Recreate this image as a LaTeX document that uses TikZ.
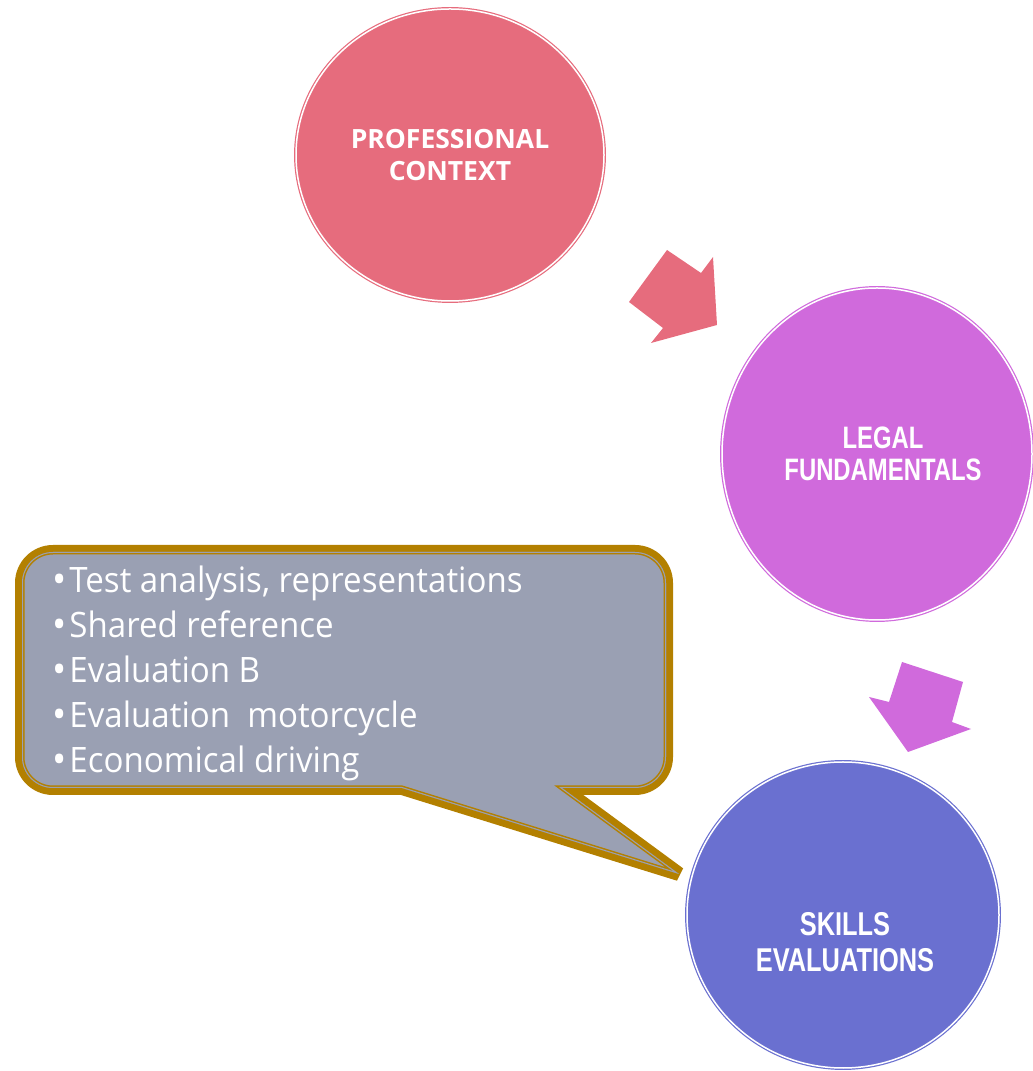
\documentclass[tikz,border=0pt]{standalone}
\usepackage{fontspec}
\setmainfont{Open Sans}
\newfontfamily\ctxfont{Open Sans}
\newfontfamily\legfont[FakeStretch=0.77]{Liberation Sans}
\newfontfamily\skfont[FakeStretch=0.77]{Liberation Sans}
\newfontfamily\callfont[FakeStretch=0.945]{Open Sans}
\usetikzlibrary{shapes.geometric}
\definecolor{pinkc}{HTML}{E66C7D}
\definecolor{purplec}{HTML}{D06ADC}
\definecolor{bluec}{HTML}{6A70D0}
\definecolor{callgrey}{HTML}{9AA0B3}
\definecolor{goldc}{HTML}{B38000}
\begin{document}
\begin{tikzpicture}[x=1pt,y=1pt,
  bubble/.style={ellipse, draw=#1, fill=#1, double=white, double distance=1.5pt, line width=1.2pt, inner sep=0pt, outer sep=0pt},
  bubtext/.style={text=white, align=center, inner sep=0pt},
  calltext/.style={text=white, anchor=base west, inner sep=0pt, font={\callfont\fontsize{35}{42}\selectfont}},
  callpath/.style={insert path={(53,519) -- (635,519) arc[start angle=90,end angle=0,radius=31] -- (666,314) arc[start angle=0,end angle=-90,radius=31] -- (562,283) -- (679,197) -- (402,283) -- (53,283) arc[start angle=270,end angle=180,radius=31] -- (22,488) arc[start angle=180,end angle=90,radius=31] -- cycle}}
]
\useasboundingbox (0,0) rectangle (1033,1071);

% circles
\node[bubble=pinkc, minimum width=308pt, minimum height=292pt] (prof) at (450,916) {};
\node[bubble=purplec, minimum width=310pt, minimum height=332pt] (legal) at (877,617) {};
\node[bubble=bluec, minimum width=312pt, minimum height=306pt] (skills) at (843,156) {};

\node[bubtext, font={\ctxfont\bfseries\fontsize{26.5}{32}\selectfont}] (proft) at (450,916) {PROFESSIONAL\\CONTEXT};
\node[bubtext, font={\legfont\bfseries\fontsize{31}{32}\selectfont}] (legalt) at (883,617) {LEGAL\\FUNDAMENTALS};
\node[bubtext, font={\skfont\bfseries\fontsize{33}{36}\selectfont}] (skillst) at (845,129) {SKILLS\\EVALUATIONS};

% block arrows
\fill[pinkc] (667,821) -- (701,798) -- (713,814) -- (717,746) -- (651,728) -- (663,743) -- (629,769) -- cycle;
\fill[purplec] (902,409) -- (963,389) -- (952,349) -- (971,342) -- (908,319) -- (869,374) -- (889,369) -- cycle;

% callout
\draw[goldc, line width=14pt, line join=bevel, callpath];
\fill[callgrey, callpath];
\begin{scope}
  \clip[callpath];
  \draw[goldc, line width=5pt, callpath];
  \draw[callgrey, line width=2pt, callpath];
\end{scope}

\node[calltext] (l1) at (52,478) {\raisebox{-1pt}{\fontsize{40}{42}\selectfont•}\hspace{3pt}Test analysis, representations};
\node[calltext] (l2) at (52,433) {\raisebox{-1pt}{\fontsize{40}{42}\selectfont•}\hspace{3pt}Shared reference};
\node[calltext] (l3) at (52,388) {\raisebox{-1pt}{\fontsize{40}{42}\selectfont•}\hspace{3pt}Evaluation B};
\node[calltext] (l4) at (52,343) {\raisebox{-1pt}{\fontsize{40}{42}\selectfont•}\hspace{3pt}Evaluation\ \ motorcycle};
\node[calltext] (l5) at (52,298) {\raisebox{-1pt}{\fontsize{40}{42}\selectfont•}\hspace{3pt}Economical driving};
\end{tikzpicture}
\end{document}
